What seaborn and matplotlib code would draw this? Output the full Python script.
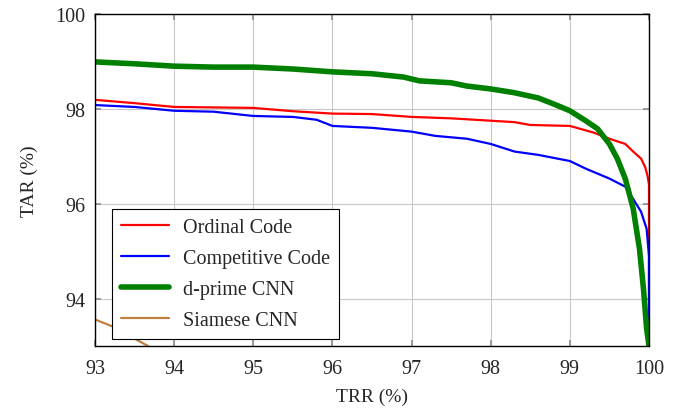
import numpy as np
import pandas as pd
import matplotlib
matplotlib.use("Agg")
import matplotlib.pyplot as plt
import seaborn as sns

sns.set_theme(style="whitegrid")
plt.rcParams['font.family'] = ['Liberation Serif', 'DejaVu Serif']
plt.rcParams['mathtext.fontset'] = 'stix'

ord_x = [93.0, 93.5, 94.0, 95.0, 95.5, 96.0, 96.5, 97.0, 97.5, 98.0, 98.3, 98.5, 99.0, 99.3, 99.5, 99.7, 99.8, 99.9, 99.95, 99.98, 100.0, 100.0]
ord_y = [98.19, 98.12, 98.04, 98.02, 97.95, 97.90, 97.89, 97.83, 97.80, 97.75, 97.72, 97.66, 97.64, 97.50, 97.37, 97.26, 97.10, 96.95, 96.78, 96.60, 96.40, 93.0]

comp_x = [93.0, 93.5, 94.0, 94.5, 95.0, 95.5, 95.8, 96.0, 96.5, 97.0, 97.3, 97.7, 98.0, 98.3, 98.6, 99.0, 99.2, 99.5, 99.7, 99.8, 99.9, 99.97, 100.0, 100.0]
comp_y = [98.08, 98.04, 97.96, 97.94, 97.85, 97.83, 97.77, 97.64, 97.60, 97.52, 97.43, 97.37, 97.26, 97.10, 97.03, 96.90, 96.74, 96.53, 96.36, 96.10, 95.83, 95.47, 94.90, 93.0]

dp_x = [93.0, 93.5, 94.0, 94.5, 95.0, 95.5, 96.0, 96.5, 96.9, 97.1, 97.5, 97.7, 98.0, 98.3, 98.6, 98.8, 99.0, 99.2, 99.35, 99.5, 99.6, 99.7, 99.8, 99.88, 99.93, 99.97, 100.0]
dp_y = [98.99, 98.95, 98.90, 98.88, 98.88, 98.84, 98.78, 98.74, 98.67, 98.59, 98.55, 98.48, 98.42, 98.34, 98.23, 98.10, 97.96, 97.75, 97.58, 97.26, 96.95, 96.53, 95.90, 95.05, 94.21, 93.37, 93.0]

siam_x = [92.9, 93.0, 93.21, 93.67]
siam_y = [93.60, 93.56, 93.42, 93.0]

series = [
    ("Ordinal Code", ord_x, ord_y, "#ff0000", 1.6),
    ("Competitive Code", comp_x, comp_y, "#0000ff", 1.6),
    ("d-prime CNN", dp_x, dp_y, "#008000", 4.0),
    ("Siamese CNN", siam_x, siam_y, "#bf8040", 1.6),
]

fig = plt.figure(figsize=(6.81, 4.14), dpi=100)
ax = fig.add_axes([0.1395, 0.1618, 0.8135, 0.802])
for name, xs, ys, col, lw in series:
    df = pd.DataFrame({"x": xs, "y": ys})
    sns.lineplot(data=df, x="x", y="y", ax=ax, color=col, linewidth=lw,
                 sort=False, estimator=None, label=name)

ax.set_xlim(93, 100)
ax.set_ylim(93, 100)
ax.set_xticks([93, 94, 95, 96, 97, 98, 99, 100])
ax.set_yticks([94, 96, 98, 100])
ax.grid(True, color="#c8c8c8", linewidth=0.8)
for s in ax.spines.values():
    s.set_color("black")
    s.set_linewidth(1.0)
ax.tick_params(direction="in", length=4, color="#909090", labelsize=14.5,
               top=True, right=True, bottom=True, left=True)
ax.tick_params(axis="x", pad=9)
ax.tick_params(axis="y", pad=7)
ax.set_xlabel("TRR (%)", fontsize=14, labelpad=7)
ax.set_ylabel("TAR (%)", fontsize=14, labelpad=12)

leg = ax.legend(loc="lower left", fontsize=14.5, fancybox=False, framealpha=1,
                edgecolor="black", borderaxespad=0.0, bbox_to_anchor=(0.03, 0.02),
                handlelength=2.4, borderpad=0.45, labelspacing=0.6, handletextpad=0.7)
leg.get_frame().set_linewidth(0.8)

fig.savefig("out.png", dpi=100)
